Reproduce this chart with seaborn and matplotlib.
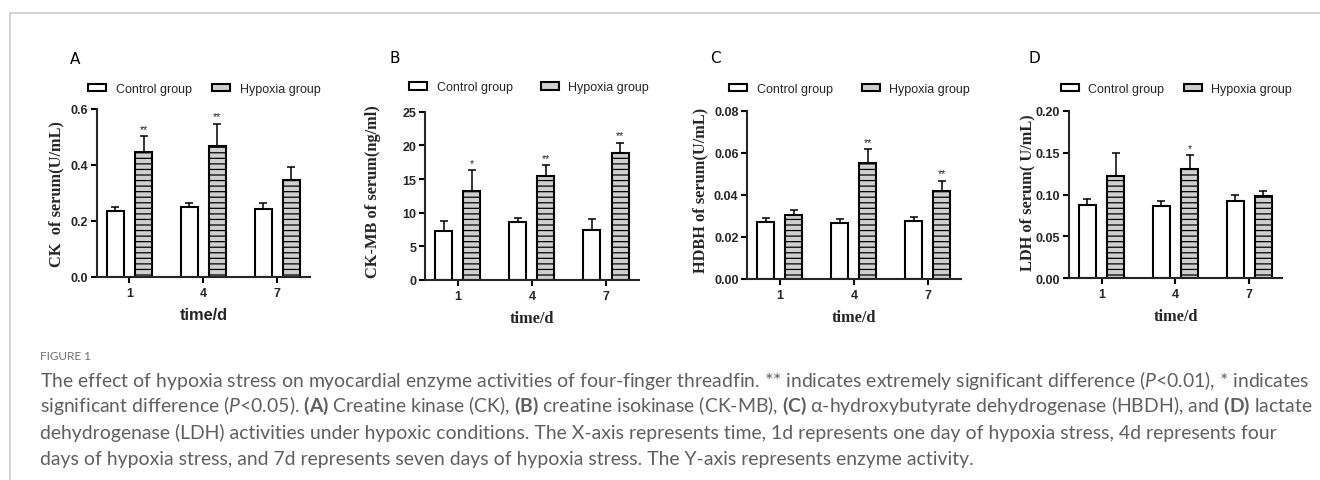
import numpy as np
import pandas as pd
import matplotlib
matplotlib.use("Agg")
import matplotlib.pyplot as plt
import seaborn as sns
from matplotlib.patches import Patch
from matplotlib.lines import Line2D
from matplotlib import font_manager

# ---------------- data ----------------
days = ["1", "4", "7"]
groups = ["Control group", "Hypoxia group"]

ck_control = [0.237, 0.249, 0.244]
ck_control_err = [0.012, 0.015, 0.020]
ck_hypoxia = [0.445, 0.468, 0.345]
ck_hypoxia_err = [0.057, 0.080, 0.047]
ck_stars = ["**", "**", ""]

ckmb_control = [7.32, 8.57, 7.47]
ckmb_control_err = [1.49, 0.69, 1.64]
ckmb_hypoxia = [13.27, 15.42, 18.84]
ckmb_hypoxia_err = [3.03, 1.63, 1.58]
ckmb_stars = ["*", "**", "**"]

hdbh_control = [0.0270, 0.0265, 0.0275]
hdbh_control_err = [0.0022, 0.0022, 0.0019]
hdbh_hypoxia = [0.0306, 0.0552, 0.0416]
hdbh_hypoxia_err = [0.0023, 0.0065, 0.0052]
hdbh_stars = ["", "**", "**"]

ldh_control = [0.0871, 0.0866, 0.0926]
ldh_control_err = [0.0072, 0.0060, 0.0072]
ldh_hypoxia = [0.122, 0.131, 0.0978]
ldh_hypoxia_err = [0.0275, 0.0165, 0.0067]
ldh_stars = ["", "*", ""]

panel_letters = ["A", "B", "C", "D"]
ylabels = ["CK  of serum(U/mL)", "CK-MB of serum(ng/ml)",
           "HDBH of serum(U/mL)", "LDH of serum( U/mL)"]
xlabel_text = "time/d"

caption_title = "FIGURE 1"
caption_lines = [
    "The effect of hypoxia stress on myocardial enzyme activities of four-finger threadfin. ** indicates extremely significant difference ($P$<0.01), * indicates",
    r"significant difference ($P$<0.05). $\mathbf{(A)}$ Creatine kinase (CK), $\mathbf{(B)}$ creatine isokinase (CK-MB), $\mathbf{(C)}$ α-hydroxybutyrate dehydrogenase (HBDH), and $\mathbf{(D)}$ lactate",
    "dehydrogenase (LDH) activities under hypoxic conditions. The X-axis represents time, 1d represents one day of hypoxia stress, 4d represents four",
    "days of hypoxia stress, and 7d represents seven days of hypoxia stress. The Y-axis represents enzyme activity.",
]

# ---------------- style ----------------
sns.set_style("ticks")
W, H = 1320, 481
DPI = 100
available = {f.name for f in font_manager.fontManager.ttflist}
capfont = "Lato" if "Lato" in available else ("Roboto" if "Roboto" in available else "DejaVu Sans")

plt.rcParams["font.family"] = ["Liberation Sans", "DejaVu Sans"]
plt.rcParams["hatch.color"] = "#333333"
plt.rcParams["hatch.linewidth"] = 0.9
plt.rcParams["mathtext.fontset"] = "custom"
plt.rcParams["mathtext.rm"] = capfont
plt.rcParams["mathtext.it"] = capfont + ":italic"
plt.rcParams["mathtext.bf"] = capfont + ":bold"

fig = plt.figure(figsize=(W / DPI, H / DPI), dpi=DPI)

def fx(px):
    return px / W

def fy(py):
    return 1 - py / H

# axes rectangles in pixels: left, right, top, bottom
rects_px = [(97, 310, 110, 278), (425, 639, 112.7, 281),
            (747.3, 960.7, 111.7, 280), (1069, 1282.3, 111.7, 279.3)]

panels = [
    dict(ctrl=ck_control, ce=ck_control_err, hyp=ck_hypoxia, he=ck_hypoxia_err, stars=ck_stars,
         ylim=(0, 0.6), yticks=[0, 0.2, 0.4, 0.6], fmt="{:.1f}", xlabel_family="Liberation Sans",
         ylab_x=-0.19, ylab_y=0.50, leg=(-0.042, 1.119, 1.65), letter=(-0.127, 1.298)),
    dict(ctrl=ckmb_control, ce=ckmb_control_err, hyp=ckmb_hypoxia, he=ckmb_hypoxia_err, stars=ckmb_stars,
         ylim=(0, 25), yticks=[0, 5, 10, 15, 20, 25], fmt="{:.0f}", xlabel_family="Liberation Serif",
         ylab_x=-0.241, ylab_y=0.532, leg=(-0.075, 1.145, 2.26), letter=(-0.168, 1.323)),
    dict(ctrl=hdbh_control, ce=hdbh_control_err, hyp=hdbh_hypoxia, he=hdbh_hypoxia_err, stars=hdbh_stars,
         ylim=(0, 0.08), yticks=[0, 0.02, 0.04, 0.06, 0.08], fmt="{:.2f}", xlabel_family="Liberation Serif",
         ylab_x=-0.222, ylab_y=0.53, leg=(-0.086, 1.129, 2.34), letter=(-0.175, 1.317)),
    dict(ctrl=ldh_control, ce=ldh_control_err, hyp=ldh_hypoxia, he=ldh_hypoxia_err, stars=ldh_stars,
         ylim=(0, 0.20), yticks=[0, 0.05, 0.10, 0.15, 0.20], fmt="{:.2f}", xlabel_family="Liberation Serif",
         ylab_x=-0.195, ylab_y=0.518, leg=(-0.039, 1.129, 1.54), letter=(-0.188, 1.32)),
]

ctrl_color = "white"
hyp_color = "#cfcfcf"

for i, (spec, (l, r, t, b)) in enumerate(zip(panels, rects_px)):
    ax = fig.add_axes([fx(l), fy(b), (r - l) / W, (b - t) / H])
    df = pd.DataFrame({
        "day": days * 2,
        "group": [groups[0]] * 3 + [groups[1]] * 3,
        "value": list(spec["ctrl"]) + list(spec["hyp"]),
    })
    sns.barplot(data=df, x="day", y="value", hue="group", order=days, hue_order=groups,
                palette={groups[0]: ctrl_color, groups[1]: hyp_color}, saturation=1,
                width=0.76, gap=0.395, errorbar=None, edgecolor="black", linewidth=1.5,
                legend=False, ax=ax)
    for bar in ax.containers[1]:
        bar.set_hatch("---")
    for cont, errs in ((ax.containers[0], spec["ce"]), (ax.containers[1], spec["he"])):
        for bar, e in zip(cont, errs):
            x = bar.get_x() + bar.get_width() / 2
            y = bar.get_height()
            ax.errorbar([x], [y], yerr=[[0], [e]], fmt="none", ecolor="black",
                        elinewidth=1.1, capsize=2.9, capthick=1.1, zorder=1)
    for bar, e, s in zip(ax.containers[1], spec["he"], spec["stars"]):
        if s:
            x = bar.get_x() + bar.get_width() / 2
            ax.annotate(s, (x, bar.get_height() + e), xytext=(0, 1.5), textcoords="offset points",
                        ha="center", va="bottom", fontsize=7.5, color="#222222")

    ax.set_xlim(-0.44, 2.445)
    ax.set_ylim(*spec["ylim"])
    ax.set_yticks(spec["yticks"])
    ax.set_yticklabels([spec["fmt"].format(v) for v in spec["yticks"]],
                       fontsize=9, fontweight="bold")
    ax.set_xticks([0, 1, 2])
    ax.set_xticklabels(days, fontsize=9, fontweight="bold")
    for side in ("top", "right"):
        ax.spines[side].set_visible(False)
    for side in ("left", "bottom"):
        ax.spines[side].set_linewidth(1.5)
    ax.tick_params(axis="both", width=1.5, length=4.3, pad=2.0, color="black")
    ax.tick_params(axis="x", pad=3.0)

    ax.set_ylabel(ylabels[i], fontsize=11.8, fontweight="bold",
                  family=["Liberation Serif", "DejaVu Serif"])
    ax.yaxis.label.set_va("center")
    ax.yaxis.set_label_coords(spec["ylab_x"], spec["ylab_y"])
    ax.set_xlabel(xlabel_text, fontsize=11.8, fontweight="bold", family=spec["xlabel_family"])
    ax.xaxis.label.set_va("center")
    ax.xaxis.set_label_coords(0.5, -0.226)

    handles = [Patch(facecolor=ctrl_color, edgecolor="black", linewidth=1.5),
               Patch(facecolor=hyp_color, edgecolor="black", linewidth=1.5)]
    lx, ly, cs = spec["leg"]
    ax.legend(handles, groups, loc="center left", bbox_to_anchor=(lx, ly), ncol=2,
              frameon=False, fontsize=9, handlelength=1.44, handleheight=0.56,
              handletextpad=0.77, columnspacing=cs, borderpad=0, borderaxespad=0)

    ax.text(spec["letter"][0], spec["letter"][1], panel_letters[i], transform=ax.transAxes,
            ha="left", va="center", fontsize=11, family="DejaVu Sans", color="black")

# ---------------- frame lines ----------------
fig.add_artist(Line2D([fx(9.5), 1.0], [fy(13.5), fy(13.5)], transform=fig.transFigure,
                      color="#cccccc", linewidth=1.2))
fig.add_artist(Line2D([fx(9.5), fx(9.5)], [fy(13.5), 0.0], transform=fig.transFigure,
                      color="#cccccc", linewidth=1.2))

# ---------------- caption ----------------
cap_color = "#5f5f5f"
fig.text(fx(40), fy(356), caption_title, fontsize=8.5, family=capfont, color="#707070",
         ha="left", va="center")

fig.canvas.draw()
renderer = fig.canvas.get_renderer()
probe = fig.text(0, 0, caption_lines[0], fontsize=10, family=capfont)
wprobe = probe.get_window_extent(renderer).width
probe.remove()
cap_size = 10 * 1268 / wprobe
line_y = [380, 406, 433, 460]
for txt, yy in zip(caption_lines, line_y):
    fig.text(fx(40), fy(yy), txt, fontsize=cap_size, family=capfont, color=cap_color,
             ha="left", va="center")

fig.savefig("out.png", dpi=DPI, facecolor="white")
